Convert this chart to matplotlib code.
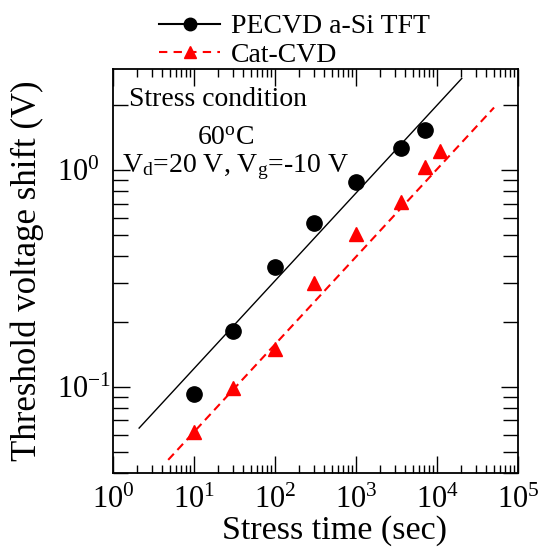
import math
import matplotlib
matplotlib.use("Agg")
import matplotlib.pyplot as plt
from matplotlib.lines import Line2D
from matplotlib.ticker import LogLocator, FuncFormatter, NullFormatter

plt.rcParams['font.family'] = ['Liberation Serif', 'DejaVu Serif']
plt.rcParams['mathtext.fontset'] = 'custom'
plt.rcParams['mathtext.rm'] = 'Liberation Serif'
plt.rcParams['mathtext.it'] = 'Liberation Serif:italic'

# measured points
t_pecvd = [10, 30, 100, 300, 1000, 3600, 7200]
dv_pecvd = [0.093, 0.18, 0.356, 0.568, 0.877, 1.26, 1.53]
t_cat = [10, 30, 100, 300, 1000, 3600, 7200, 10800]
dv_cat = [0.062, 0.099, 0.149, 0.30, 0.51, 0.71, 1.03, 1.22]

# fitted power-law lines (end points)
fit_pecvd_t = [2.1, 20200]
fit_pecvd_v = [0.0645, 2.65]
fit_cat_t = [4.8, 50600]
fit_cat_v = [0.046, 1.945]

fig = plt.figure(figsize=(5.47, 5.55), dpi=100)
ax = fig.add_axes([0.2066, 0.1477, 0.7404, 0.728])

ax.plot(fit_pecvd_t, fit_pecvd_v, color='black', lw=1.0)
ax.plot(fit_cat_t, fit_cat_v, color='red', lw=1.5, dashes=(4, 2.5))
ax.plot(t_pecvd, dv_pecvd, 'o', color='black', ms=11, ls='none')
ax.plot(t_cat, dv_cat, '^', color='red', ms=10, ls='none')

ax.set_xscale('log')
ax.set_yscale('log')
ax.set_xlim(1, 1e5)
ax.set_ylim(0.04, 2.93)


def pow_fmt(v, pos):
    e = int(round(math.log10(v)))
    return r'$\mathregular{10^{%s}}$' % ('-' + str(-e) if e < 0 else str(e))


ax.xaxis.set_major_locator(LogLocator(base=10, numticks=10))
ax.xaxis.set_minor_locator(LogLocator(base=10, subs=range(2, 10), numticks=20))
ax.yaxis.set_major_locator(LogLocator(base=10, numticks=10))
ax.yaxis.set_minor_locator(LogLocator(base=10, subs=range(2, 10), numticks=20))
ax.xaxis.set_major_formatter(FuncFormatter(pow_fmt))
ax.yaxis.set_major_formatter(FuncFormatter(pow_fmt))
ax.xaxis.set_minor_formatter(NullFormatter())
ax.yaxis.set_minor_formatter(NullFormatter())

ax.tick_params(which='both', direction='in', top=True, right=True, labelsize=22, width=1.0)
ax.tick_params(axis='x', which='major', length=12, pad=9)
ax.tick_params(axis='x', which='minor', length=6)
ax.tick_params(axis='y', which='major', length=12, pad=40)
ax.tick_params(axis='y', which='minor', length=11)
for lab in ax.get_yticklabels():
    lab.set_horizontalalignment('left')
for s in ax.spines.values():
    s.set_linewidth(1.3)

ax.set_xlabel('Stress time (sec)', fontsize=24.5, labelpad=0)
ax.xaxis.label.set_x(0.548)
ax.set_ylabel('Threshold voltage shift (V)', fontsize=25, labelpad=10)

ax.text(0.04, 0.925, 'Stress condition', transform=ax.transAxes, fontsize=20,
        ha='left', va='center')
ax.text(0.277, 0.827, r'60$\mathregular{^o}$C', transform=ax.transAxes, fontsize=20,
        ha='center', va='center')
ax.text(0.022, 0.757, r'V$\mathregular{_d}$=20 V, V$\mathregular{_g}$=-10 V',
        transform=ax.transAxes, fontsize=20, ha='left', va='center')

handles = [
    Line2D([], [], color='black', lw=1.5, marker='o', ms=9),
    Line2D([], [], color='red', lw=1.5, dashes=(4, 3), marker='^', ms=9),
]
fig.legend(handles, ['PECVD a-Si TFT', 'Cat-CVD'], loc='upper left',
           bbox_to_anchor=(0.245, 1.02), frameon=False, fontsize=20,
           handlelength=2.2, handletextpad=0.4, labelspacing=0.1)

fig.savefig('out.png', dpi=100)
